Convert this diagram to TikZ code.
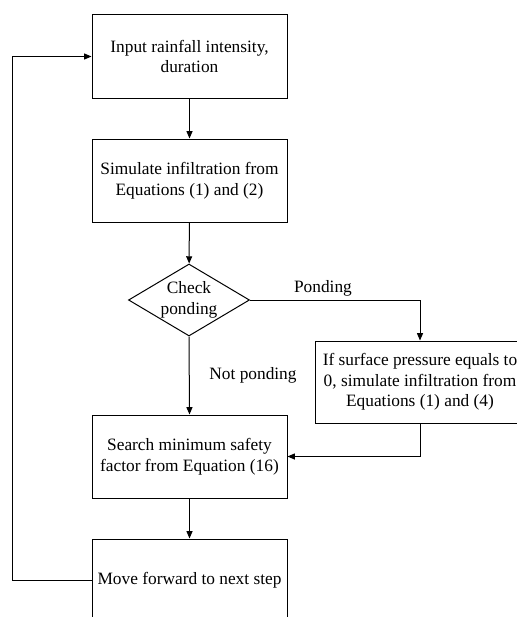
\documentclass[tikz,border=0pt]{standalone}
\usepackage{fontspec}
\setmainfont{Liberation Serif}
\usetikzlibrary{arrows.meta,shapes.geometric}

\tikzset{
    box/.style={draw, line width=0.75pt, minimum width=146.25pt, minimum height=62.25pt,
        inner sep=0pt, align=center, font=\fontsize{13}{15.5}\selectfont},
    decision/.style={draw, diamond, aspect=1.7, line width=0.75pt, minimum width=90.75pt,
        minimum height=54pt, inner sep=0pt, align=center, font=\fontsize{13}{15.5}\selectfont},
    arrow/.style={line width=0.75pt, -{Triangle[length=5.5pt,width=4.5pt]}},
    tag/.style={font=\fontsize{13}{15.5}\selectfont}
}

\begin{document}
\begin{tikzpicture}[x=0.75pt,y=-0.75pt]
\clip (0,0) rectangle (517,617);
\fill[white] (0,0) rectangle (517,617);

% Steps
\node[box] (input) at (189.5,56.5) {Input rainfall intensity,\\duration};
\node[box] (simulate) at (189.5,180.5) {Simulate infiltration from\\Equations (1) and (2)};
\node[decision] (check) at (189,300) {Check\\ponding};
\node[box, minimum width=157.5pt, minimum height=61.5pt] (surface) at (420,382)
    {If surface pressure equals to\\0, simulate infiltration from\\Equations (1) and (4)};
\node[box] (search) at (189.5,456.5) {Search minimum safety\\factor from Equation (16)};
\node[box] (move) at (189.5,580.5) {Move forward to next step};

% Labels
\node[tag] (ponding) at (323,288) {Ponding};
\node[tag] (notponding) at (253,375) {Not ponding};

% Connectors
\draw[arrow] (input) -- (simulate);
\draw[arrow] (simulate) -- (check);
\draw[arrow] (check.east) -| (surface.north);
\draw[arrow] (check.south) -- (search.north);
\draw[arrow] (surface.south) |- (search.east);
\draw[arrow] (search) -- (move);

% Loop back
\coordinate (loop) at (12,0);
\draw[arrow] (move.west) -- (move.west -| loop) |- (input.west);
\end{tikzpicture}
\end{document}
